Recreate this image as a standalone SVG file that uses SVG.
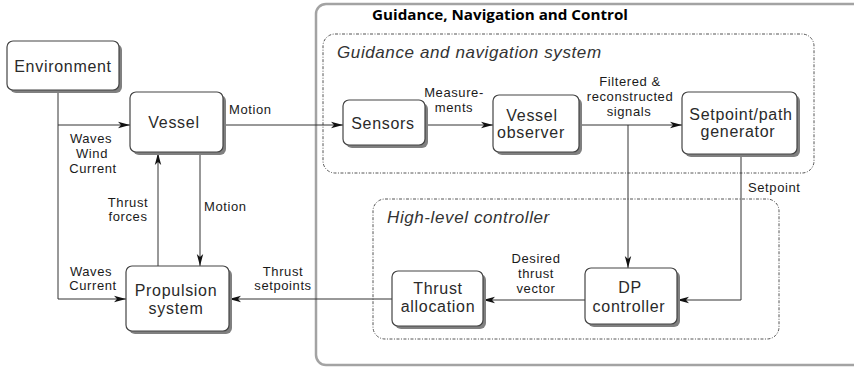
<svg xmlns="http://www.w3.org/2000/svg" width="854" height="367" viewBox="0 0 854 367">
<defs>
<marker id="ah" viewBox="0 0 12 8" refX="12" refY="4" markerWidth="12" markerHeight="8" markerUnits="userSpaceOnUse" orient="auto">
<path d="M0,0.8 L12,4 L0,7.2 L3,4 Z" fill="#111"/>
</marker>
</defs>
<style>
.box{fill:#fff;stroke:#444;stroke-width:1.2}
.sh{fill:#808080}
.nt{font-family:"Liberation Sans",Arial,sans-serif;font-size:16px;letter-spacing:0.7px;fill:#2a2a2a;text-anchor:middle}
.lb{font-family:"Liberation Sans",Arial,sans-serif;font-size:13px;letter-spacing:0.6px;fill:#1a1a1a;text-anchor:middle}
.lbs{font-family:"Liberation Sans",Arial,sans-serif;font-size:13px;letter-spacing:0.6px;fill:#1a1a1a;text-anchor:start}
.it{font-family:"Liberation Sans",Arial,sans-serif;font-size:17px;font-style:italic;letter-spacing:0.6px;fill:#333}
.cn{fill:none;stroke:#333;stroke-width:1}
.grp{fill:none;stroke:#555;stroke-width:1;stroke-dasharray:3 1.5 1 1.5}
</style>
<rect width="854" height="367" fill="#fff"/>
<g id="gnc-frame">
<rect x="316" y="4" width="560" height="361" rx="10" fill="none" stroke="#a3a3a3" stroke-width="2.5"/>
<text x="500" y="20" font-family="'Open Sans','Liberation Sans',sans-serif" font-weight="bold" font-size="15" fill="#000" text-anchor="middle" textLength="256" lengthAdjust="spacingAndGlyphs">Guidance, Navigation and Control</text>
</g>
<g id="gn-system">
<rect class="grp" x="323" y="34" width="491" height="139" rx="12"/>
<text class="it" x="337" y="58">Guidance and navigation system</text>
</g>
<g id="hl-controller">
<rect class="grp" x="373" y="199" width="406" height="140" rx="12"/>
<text class="it" x="387" y="223">High-level controller</text>
</g>
<g id="connectors">
<path class="cn" d="M58 90 V299 H126" marker-end="url(#ah)"/>
<path class="cn" d="M58 125 H130" marker-end="url(#ah)"/>
<path class="cn" d="M223 125 H343" marker-end="url(#ah)"/>
<path class="cn" d="M425 125 H493" marker-end="url(#ah)"/>
<path class="cn" d="M579 125 H682" marker-end="url(#ah)"/>
<path class="cn" d="M628 125 V268" marker-end="url(#ah)"/>
<path class="cn" d="M741 154 V300 H677" marker-end="url(#ah)"/>
<path class="cn" d="M585 300 H483" marker-end="url(#ah)"/>
<path class="cn" d="M392 299 H229" marker-end="url(#ah)"/>
<path class="cn" d="M158 266 V153" marker-end="url(#ah)"/>
<path class="cn" d="M200 153 V266" marker-end="url(#ah)"/>
<text class="lbs" x="229" y="114">Motion</text>
<text class="lb" x="91" y="143">Waves</text>
<text class="lb" x="92" y="158">Wind</text>
<text class="lb" x="93" y="173">Current</text>
<text class="lb" x="128" y="207">Thrust</text>
<text class="lb" x="128" y="221">forces</text>
<text class="lbs" x="204" y="211">Motion</text>
<text class="lb" x="91" y="276">Waves</text>
<text class="lb" x="93" y="290">Current</text>
<text class="lb" x="283" y="276">Thrust</text>
<text class="lb" x="283" y="290">setpoints</text>
<text class="lb" x="454" y="97">Measure-</text>
<text class="lb" x="454" y="112">ments</text>
<text class="lb" x="630" y="86">Filtered &amp;</text>
<text class="lb" x="630" y="101">reconstructed</text>
<text class="lb" x="629" y="116">signals</text>
<text class="lbs" x="748" y="192">Setpoint</text>
<text class="lb" x="536" y="263">Desired</text>
<text class="lb" x="536" y="278">thrust</text>
<text class="lb" x="536" y="293">vector</text>
</g>
<g id="environment">
<rect class="sh" x="10" y="44" width="112" height="49" rx="6"/>
<rect class="box" x="7" y="41" width="112" height="49" rx="6"/>
<text class="nt" x="63" y="72">Environment</text>
</g>
<g id="vessel">
<rect class="sh" x="133" y="95" width="93" height="60" rx="6"/>
<rect class="box" x="130" y="92" width="93" height="60" rx="6"/>
<text class="nt" x="174" y="128">Vessel</text>
</g>
<g id="propulsion">
<rect class="sh" x="129" y="269" width="103" height="65" rx="6"/>
<rect class="box" x="126" y="266" width="103" height="65" rx="6"/>
<text class="nt" x="176" y="296">Propulsion</text>
<text class="nt" x="176" y="314">system</text>
</g>
<g id="sensors">
<rect class="sh" x="346" y="103" width="82" height="45" rx="6"/>
<rect class="box" x="343" y="100" width="82" height="45" rx="6"/>
<text class="nt" x="383" y="129">Sensors</text>
</g>
<g id="vessel-observer">
<rect class="sh" x="496" y="98" width="86" height="57" rx="6"/>
<rect class="box" x="493" y="95" width="86" height="57" rx="6"/>
<text class="nt" x="532" y="121">Vessel</text>
<text class="nt" x="531" y="138">observer</text>
</g>
<g id="setpoint-generator">
<rect class="sh" x="685" y="95" width="115" height="62" rx="6"/>
<rect class="box" x="682" y="92" width="115" height="62" rx="6"/>
<text class="nt" x="741" y="120">Setpoint/path</text>
<text class="nt" x="738" y="137">generator</text>
</g>
<g id="thrust-allocation">
<rect class="sh" x="395" y="274" width="91" height="55" rx="6"/>
<rect class="box" x="392" y="271" width="91" height="55" rx="6"/>
<text class="nt" x="438" y="294">Thrust</text>
<text class="nt" x="438" y="312">allocation</text>
</g>
<g id="dp-controller">
<rect class="sh" x="588" y="271" width="92" height="56" rx="6"/>
<rect class="box" x="585" y="268" width="92" height="56" rx="6"/>
<text class="nt" x="630" y="293">DP</text>
<text class="nt" x="629" y="312">controller</text>
</g>
</svg>
